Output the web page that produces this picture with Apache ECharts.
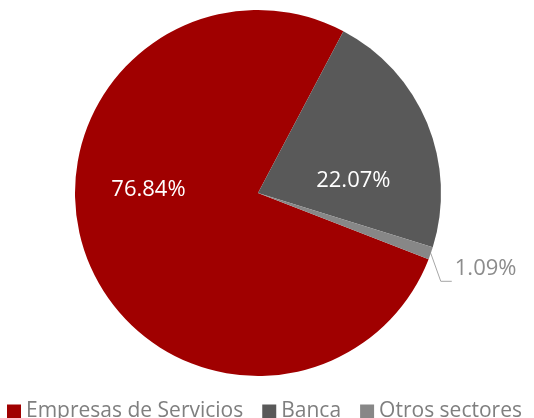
<!DOCTYPE html>
<html>
<head>
<meta charset="utf-8">
<script src="https://cdn.jsdelivr.net/npm/echarts@6/dist/echarts.min.js"></script>
<style>
  html, body { margin: 0; padding: 0; background: #fff; }
  #chart { width: 534px; height: 418px; }
</style>
</head>
<body>
<div id="chart"></div>
<script>
// datos del gráfico
const categories = ['Empresas de Servicios', 'Banca', 'Otros sectores'];
const values = [76.84, 22.07, 1.09];
const colors = ['#A00000', '#595959', '#878787'];

const myChart = echarts.init(document.getElementById('chart'));

const pieData = categories.map((name, i) => {
    const item = { name: name, value: values[i], itemStyle: { color: colors[i] } };
    if (i === 0) {
        item.label = { position: 'inside', offset: [-21, -36] };
    } else if (i === 1) {
        item.label = { position: 'inside', offset: [8, 24] };
    } else {
        item.label = { position: 'outside', color: '#8c8c8c' };
        item.labelLine = { show: true, length: 10, length2: 8, lineStyle: { color: '#a6a6a6', width: 1 } };
    }
    return item;
});

const option = {
    animation: false,
    textStyle: { fontFamily: 'Open Sans' },
    legend: {
        data: categories,
        left: 2,
        top: 396,
        width: 600,
        itemWidth: 14,
        itemHeight: 14,
        itemGap: 19,
        icon: 'rect',
        textStyle: { color: '#7f7f7f', fontSize: 21, fontFamily: 'Open Sans' }
    },
    series: [
        {
            type: 'pie',
            center: [258, 193],
            radius: 183,
            startAngle: -21.2,
            clockwise: true,
            label: {
                color: '#fff',
                fontSize: 22,
                fontFamily: 'Open Sans',
                formatter: (p) => p.value.toFixed(2) + '%'
            },
            labelLayout: (p) => {
                if (p.dataIndex !== 2 || !p.labelLinePoints) return {};
                // línea guía: baja en diagonal y luego corre en horizontal hasta el texto
                const a = p.labelLinePoints[0];
                const b = [a[0] + 10, a[1] + 28];
                const c = [b[0] + 11, b[1]];
                return {
                    x: c[0] + 3,
                    y: b[1] - 24,
                    align: 'left',
                    verticalAlign: 'top',
                    labelLinePoints: [a, b, c]
                };
            },
            data: pieData
        }
    ]
};

myChart.setOption(option);
</script>
</body>
</html>
